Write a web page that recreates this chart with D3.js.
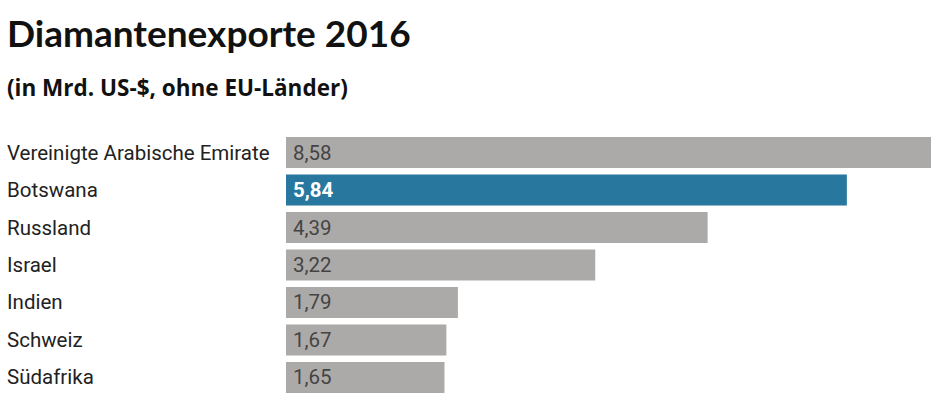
<!DOCTYPE html>
<html lang="de">
<head>
<meta charset="utf-8">
<script src="https://cdn.jsdelivr.net/npm/d3@7"></script>
<style>
  html, body { margin: 0; padding: 0; background: #fff; overflow: hidden; }
  svg { display: block; }
</style>
</head>
<body>
<div id="chart"></div>
<script>
  const laender = ['Vereinigte Arabische Emirate', 'Botswana', 'Russland', 'Israel', 'Indien', 'Schweiz', 'Südafrika'];
  const werte = [8.58, 5.84, 4.39, 3.22, 1.79, 1.67, 1.65];
  const hervorgehoben = 'Botswana';

  const GRAU = '#acaaa8';
  const BLAU = '#28779e';
  const BREITE = 931;
  const HOEHE = 395;

  const svg = d3.select('#chart')
    .append('svg')
    .attr('width', BREITE)
    .attr('height', HOEHE);

  svg.append('text')
    .attr('x', 7)
    .attr('y', 47)
    .attr('font-family', 'Lato, sans-serif')
    .attr('font-weight', 'bold')
    .attr('font-size', 37)
    .attr('fill', '#111')
    .text('Diamantenexporte 2016');

  svg.append('text')
    .attr('x', 7)
    .attr('y', 96)
    .attr('font-family', '"Open Sans", sans-serif')
    .attr('font-weight', 'bold')
    .attr('font-size', 22.5)
    .attr('fill', '#111')
    .text('(in Mrd. US-$, ohne EU-Länder)');

  // ~96 px pro Mrd., der oberste Balken läuft über den rechten Rand hinaus
  const x = d3.scaleLinear().domain([0, 8.58]).range([286, 1110]);
  const y = d3.scaleBand()
    .domain(laender)
    .range([137, 393])
    .paddingInner(0.173)
    .paddingOuter(0);

  const daten = laender.map((land, i) => ({ land, wert: werte[i] }));
  const fmt = (v) => d3.format('.2f')(v).replace('.', ',');

  const zeilen = svg.append('g')
    .selectAll('g.zeile')
    .data(daten)
    .join('g')
    .attr('class', 'zeile');

  zeilen.append('rect')
    .attr('x', x(0))
    .attr('y', (d) => y(d.land))
    .attr('width', (d) => x(d.wert) - x(0))
    .attr('height', y.bandwidth())
    .attr('fill', (d) => (d.land === hervorgehoben ? BLAU : GRAU));

  zeilen.append('text')
    .attr('x', 7)
    .attr('y', (d) => y(d.land) + y.bandwidth() / 2 + 7)
    .attr('font-family', 'Roboto, sans-serif')
    .attr('font-size', 20.5)
    .attr('fill', '#222')
    .text((d) => d.land);

  zeilen.append('text')
    .attr('x', x(0) + 7)
    .attr('y', (d) => y(d.land) + y.bandwidth() / 2 + 7)
    .attr('font-family', 'Roboto, sans-serif')
    .attr('font-size', 20.5)
    .attr('font-weight', (d) => (d.land === hervorgehoben ? 'bold' : 'normal'))
    .attr('fill', (d) => (d.land === hervorgehoben ? '#fff' : '#444'))
    .text((d) => fmt(d.wert));
</script>
</body>
</html>
